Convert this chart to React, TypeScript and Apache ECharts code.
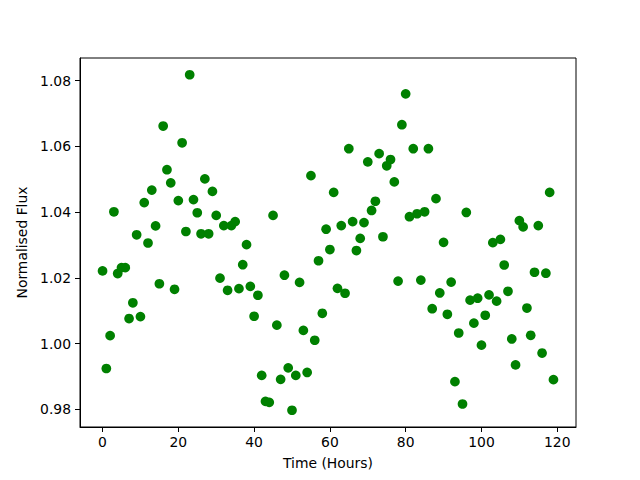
import React, { useEffect, useRef } from "react";
import * as echarts from "echarts";

const hours = [
  0, 1, 2, 3, 4, 5, 6, 7, 8, 9, 10, 11, 12, 13, 14, 15, 16, 17, 18, 19,
  20, 21, 22, 23, 24, 25, 26, 27, 28, 29, 30, 31, 32, 33, 34, 35, 36, 37, 38, 39,
  40, 41, 42, 43, 44, 45, 46, 47, 48, 49, 50, 51, 52, 53, 54, 55, 56, 57, 58, 59,
  60, 61, 62, 63, 64, 65, 66, 67, 68, 69, 70, 71, 72, 73, 74, 75, 76, 77, 78, 79,
  80, 81, 82, 83, 84, 85, 86, 87, 88, 89, 90, 91, 92, 93, 94, 95, 96, 97, 98, 99,
  100, 101, 102, 103, 104, 105, 106, 107, 108, 109, 110, 111, 112, 113, 114, 115, 116, 117, 118, 119,
];

const flux = [
  1.0221, 0.9924, 1.0024, 1.0401, 1.0213, 1.0231, 1.0231, 1.0076, 1.0124, 1.0331,
  1.0082, 1.0429, 1.0306, 1.0467, 1.0358, 1.0182, 1.0662, 1.0529, 1.0489, 1.0165,
  1.0435, 1.0611, 1.0341, 1.0818, 1.0438, 1.0398, 1.0334, 1.0501, 1.0334, 1.0463,
  1.039, 1.0199, 1.0359, 1.0162, 1.0359, 1.0371, 1.0167, 1.024, 1.0301, 1.0174,
  1.0083, 1.0147, 0.9903, 0.9824, 0.9821, 1.039, 1.0056, 0.9891, 1.0208, 0.9926,
  0.9797, 0.9903, 1.0186, 1.004, 0.9912, 1.0511, 1.001, 1.0252, 1.0092, 1.0348,
  1.0286, 1.046, 1.0168, 1.0359, 1.0153, 1.0593, 1.0371, 1.0283, 1.032, 1.0368,
  1.0553, 1.0405, 1.0433, 1.0578, 1.0325, 1.0541, 1.056, 1.0492, 1.019, 1.0666,
  1.076, 1.0386, 1.0593, 1.0395, 1.0193, 1.0401, 1.0593, 1.0106, 1.0441, 1.0154,
  1.0308, 1.0089, 1.0187, 0.9884, 1.0032, 0.9816, 1.0399, 1.0132, 1.0062, 1.0138,
  0.9995, 1.0086, 1.0148, 1.0307, 1.0129, 1.0317, 1.0239, 1.0159, 1.0014, 0.9935,
  1.0374, 1.0355, 1.0108, 1.0025, 1.0217, 1.0359, 0.9971, 1.0214, 1.046, 0.989,
];

const xTicks = [0, 20, 40, 60, 80, 100, 120];
const yTicks = [0.98, 1.0, 1.02, 1.04, 1.06, 1.08];

const FONT = "DejaVu Sans";

export default function App() {
  const ref = useRef<HTMLDivElement>(null);

  useEffect(() => {
    if (!ref.current) return;
    const chart = echarts.init(ref.current, null, { renderer: "svg" });

    const xMinD = Math.min(...hours);
    const xMaxD = Math.max(...hours);
    const yMinD = Math.min(...flux);
    const yMaxD = Math.max(...flux);
    const xm = (xMaxD - xMinD) * 0.05;
    const ym = (yMaxD - yMinD) * 0.05;

    const axisCommon = {
      axisLine: { show: true, onZero: false, lineStyle: { color: "#000", width: 1 } },
      splitLine: { show: false },
    };

    chart.setOption({
      animation: false,
      backgroundColor: "#fff",
      grid: {
        left: 80,
        right: 64,
        top: 58,
        bottom: 53,
        show: true,
        borderColor: "#000",
        borderWidth: 1,
        backgroundColor: "transparent",
      },
      xAxis: {
        type: "value",
        min: xMinD - xm,
        max: xMaxD + xm,
        ...axisCommon,
        axisTick: {
          show: true,
          inside: false,
          length: 5,
          lineStyle: { color: "#000" },
          customValues: xTicks,
        },
        axisLabel: {
          customValues: xTicks,
          color: "#000",
          fontFamily: FONT,
          fontSize: 13.9,
          margin: 8,
          formatter: (v: number) => String(Math.round(v)),
        },
        name: "Time (Hours)",
        nameLocation: "middle",
        nameGap: 29,
        nameTextStyle: { color: "#000", fontFamily: FONT, fontSize: 13.9, verticalAlign: "top" },
      },
      yAxis: {
        type: "value",
        min: yMinD - ym,
        max: yMaxD + ym,
        ...axisCommon,
        axisTick: {
          show: true,
          inside: false,
          length: 5,
          lineStyle: { color: "#000" },
          customValues: yTicks,
        },
        axisLabel: {
          customValues: yTicks,
          color: "#000",
          fontFamily: FONT,
          fontSize: 13.9,
          margin: 9,
          formatter: (v: number) => v.toFixed(2),
        },
        name: "Normalised Flux",
        nameLocation: "middle",
        nameGap: 45,
        nameTextStyle: { color: "#000", fontFamily: FONT, fontSize: 13.9 },
      },
      series: [
        {
          type: "scatter",
          data: hours.map((h, i) => [h, flux[i]]),
          symbol: "circle",
          symbolSize: 9.7,
          itemStyle: { color: "#008000", opacity: 1 },
          emphasis: { disabled: true },
        },
      ],
    });

    return () => chart.dispose();
  }, []);

  return (
    <div
      ref={ref}
      style={{ position: "absolute", left: 0, top: 0, width: 640, height: 480, background: "#fff" }}
    />
  );
}
